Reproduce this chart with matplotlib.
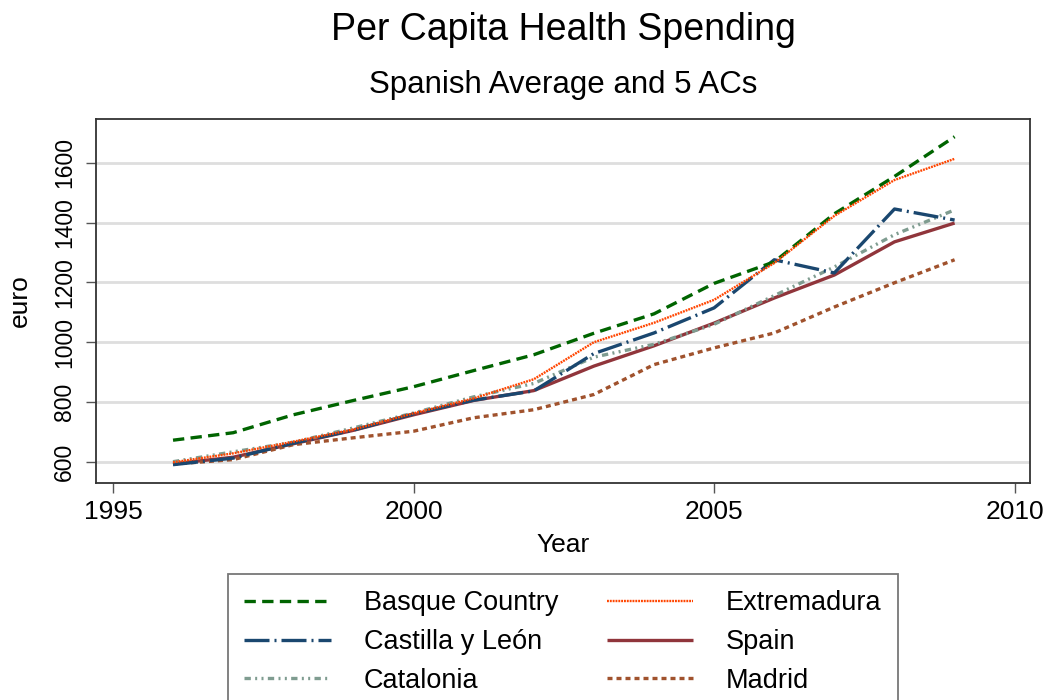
import matplotlib
matplotlib.use("Agg")
import matplotlib.pyplot as plt

plt.rcParams['font.family'] = ['Liberation Sans', 'DejaVu Sans']

# ---- data ----
years = [1996, 1997, 1998, 1999, 2000, 2001, 2002, 2003, 2004, 2005, 2006, 2007, 2008, 2009]
basque = [672, 697, 757, 805, 851, 905, 958, 1030, 1095, 1197, 1269, 1430, 1555, 1688]
extremadura = [598, 628, 667, 708, 762, 812, 876, 1000, 1065, 1142, 1265, 1423, 1543, 1614]
castilla = [590, 612, 662, 706, 760, 806, 837, 962, 1031, 1115, 1276, 1232, 1446, 1409]
spain = [593, 615, 660, 705, 757, 805, 838, 920, 988, 1064, 1148, 1225, 1336, 1399]
catalonia = [600, 633, 665, 713, 763, 817, 862, 950, 993, 1060, 1156, 1252, 1360, 1443]
madrid = [592, 607, 657, 680, 702, 747, 774, 825, 925, 981, 1031, 1118, 1199, 1276]

x_ticks = [1995, 2000, 2005, 2010]
y_ticks = [600, 800, 1000, 1200, 1400, 1600]

title = "Per Capita Health Spending"
subtitle = "Spanish Average and 5 ACs"

W, H = 1047, 700
fig = plt.figure(figsize=(W / 100, H / 100), dpi=100)
fig.patch.set_facecolor('white')

L, R, T, B = 95.7, 1030, 119.3, 482.7
ax = fig.add_axes([L / W, 1 - B / H, (R - L) / W, (B - T) / H])
ax.set_facecolor('white')

lw = 2.4
series = [
    ("Basque Country", basque, '#006400', dict(dashes=(3.4, 1.9)), 5),
    ("Castilla y León", castilla, '#1a476f', dict(dashes=(7.5, 1.5, 0.6, 1.5)), 4),
    ("Catalonia", catalonia, '#7f9c90', dict(dashes=(1.9, 1.3, 0.6, 1.3, 0.6, 1.3)), 3),
    ("Extremadura", extremadura, '#ff4500', dict(dashes=(0.8, 0.4)), 6),
    ("Spain", spain, '#90353b', dict(), 1),
    ("Madrid", madrid, '#a0522d', dict(dashes=(1.5, 1.2)), 2),
]

handles = []
for name, vals, col, st, z in series:
    lwi = 1.7 if name == "Extremadura" else lw
    ln, = ax.plot(years, vals, color=col, lw=lwi, zorder=z, label=name,
                  solid_capstyle='butt', dash_capstyle='butt', **st)
    handles.append(ln)

ax.set_xlim(1994.714, 2010.254)
ax.set_ylim(529.7, 1746.3)
ax.set_xticks(x_ticks)
ax.set_xticklabels([str(v) for v in x_ticks])
ax.set_yticks(y_ticks)
ax.set_yticklabels([str(v) for v in y_ticks], rotation=90, va='center')
ax.grid(axis='y', color='#dedede', lw=2.0, zorder=0)
ax.set_axisbelow(True)
for s in ax.spines.values():
    s.set_color('#333333')
    s.set_linewidth(1.3)
ax.tick_params(axis='both', direction='out', length=7.5, width=1.0, color='#555555',
               labelcolor='black')
ax.tick_params(axis='x', labelsize=19, pad=5)
ax.tick_params(axis='y', labelsize=16.5, pad=6.5)

fig.text(20 / W, 1 - 301 / H, "euro", rotation=90, fontsize=19, ha='center', va='center')
fig.text(563 / W, 1 - 552 / H, "Year", fontsize=19, ha='center', va='baseline')

fig.text(563 / W, 1 - 40 / H, title, fontsize=27, ha='center', va='baseline')
fig.text(563 / W, 1 - 93 / H, subtitle, fontsize=22.5, ha='center', va='baseline')

leg = fig.legend(handles=handles, ncol=2, loc='upper center',
                 bbox_to_anchor=(563 / W, 1 - 574 / H), fontsize=19.5,
                 frameon=True, fancybox=False, edgecolor='#555555',
                 handlelength=3.2, handletextpad=1.2, columnspacing=1.8,
                 labelspacing=0.47, borderpad=0.6, borderaxespad=0)
leg.get_frame().set_linewidth(1.3)

fig.savefig("out.png", dpi=100, facecolor='white')
